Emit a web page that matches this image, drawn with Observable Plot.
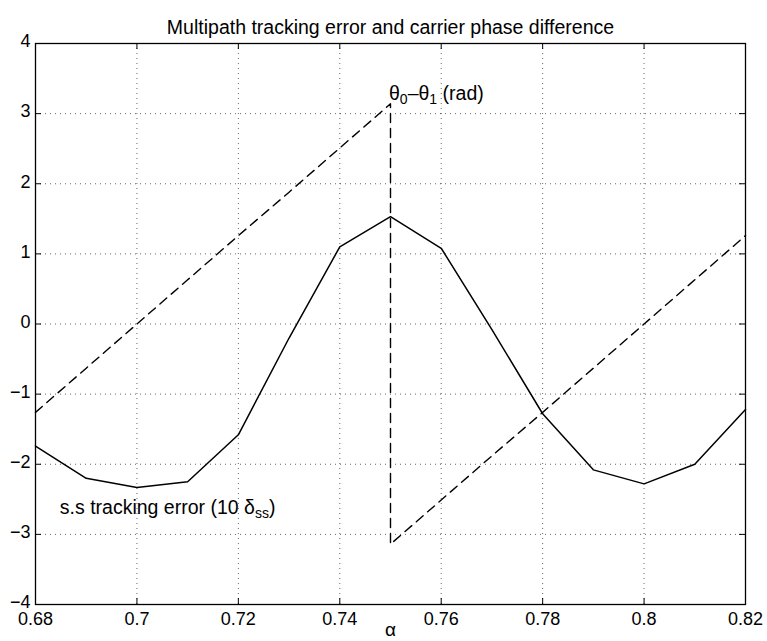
<!DOCTYPE html>
<html>
<head>
<meta charset="utf-8">
<script src="https://cdn.jsdelivr.net/npm/d3@7"></script>
<script src="https://cdn.jsdelivr.net/npm/@observablehq/plot@0.6"></script>
<style>
  html, body { margin: 0; padding: 0; background: #fff; }
  #chart svg { display: block; }
</style>
</head>
<body>
<div id="chart"></div>
<script>
// ---- data ----
const alpha = [0.68, 0.69, 0.70, 0.71, 0.72, 0.73, 0.74, 0.75, 0.76, 0.77, 0.78, 0.79, 0.80, 0.81, 0.82];
const trackingError = [-1.74, -2.2, -2.33, -2.25, -1.58, -0.2, 1.1, 1.53, 1.08, -0.08, -1.28, -2.08, -2.28, -2.0, -1.22];

const phaseAlpha = [0.68, 0.69, 0.70, 0.71, 0.72, 0.73, 0.74, 0.75, 0.75, 0.76, 0.77, 0.78, 0.79, 0.80, 0.81, 0.82];
const phaseDiff = [-1.26, -0.63, 0, 0.63, 1.26, 1.88, 2.51, 3.14, -3.14, -2.51, -1.88, -1.26, -0.63, 0, 0.63, 1.26];

const xTicks = [0.68, 0.70, 0.72, 0.74, 0.76, 0.78, 0.80, 0.82];
const yTicks = [-4, -3, -2, -1, 0, 1, 2, 3, 4];

const titleText = "Multipath tracking error and carrier phase difference";
const xLabel = "α";

// annotations: plain text, anchor position, and rich parts (text, isSubscript)
const annText = ["θ0–θ1 (rad)", "s.s tracking error (10 δss)"];
const annX = [0.7497, 0.6848];
const annY = [3.29, -2.62];
const annParts = [
  [["θ", false], ["0", true], ["–θ", false], ["1", true], [" (rad)", false]],
  [["s.s tracking error (10 δ", false], ["ss", true], [")", false]]
];

// ---- chart ----
const W = 767, H = 641;
const mL = 35, mR = 22, mT = 43, mB = 37;
const innerH = H - mT - mB, innerW = W - mL - mR;
const tickLen = 6;

const errData = alpha.map((a, i) => ({a, v: trackingError[i]}));
const phaseData = phaseAlpha.map((a, i) => ({a, v: phaseDiff[i]}));
const annData = annText.map((t, i) => ({t, x: annX[i], y: annY[i]}));

const chart = Plot.plot({
  width: W,
  height: H,
  marginLeft: mL,
  marginRight: mR,
  marginTop: mT,
  marginBottom: mB,
  style: {fontFamily: "'Liberation Sans', Arial, Helvetica, sans-serif", fontSize: "18px", background: "#fff", color: "#000"},
  x: {domain: [0.68, 0.82]},
  y: {domain: [-4, 4]},
  marks: [
    Plot.gridX(xTicks, {stroke: "#000", strokeOpacity: 0.6, strokeDasharray: "1,4"}),
    Plot.gridY(yTicks, {stroke: "#000", strokeOpacity: 0.6, strokeDasharray: "1,4"}),
    // inward ticks on all sides
    Plot.tickX(xTicks, {x: d => d, insetTop: innerH - tickLen, stroke: "#000"}),
    Plot.tickX(xTicks, {x: d => d, insetBottom: innerH - tickLen, stroke: "#000"}),
    Plot.tickY(yTicks, {y: d => d, insetRight: innerW - tickLen, stroke: "#000"}),
    Plot.tickY(yTicks, {y: d => d, insetLeft: innerW - tickLen, stroke: "#000"}),
    Plot.axisX(xTicks, {tickSize: 0, tickPadding: 8, label: null, fontSize: 18, tickFormat: d => String(+d.toFixed(2))}),
    Plot.axisY(yTicks, {tickSize: 0, tickPadding: 5, dy: -2, label: null, fontSize: 18, tickFormat: d => (d < 0 ? "−" + (-d) : String(d))}),
    Plot.frame({stroke: "#000", strokeWidth: 1.3}),
    Plot.line(phaseData, {x: "a", y: "v", stroke: "#000", strokeWidth: 1.4, strokeDasharray: "9,6"}),
    Plot.line(errData, {x: "a", y: "v", stroke: "#000", strokeWidth: 1.5}),
    Plot.text(annData, {x: "x", y: "y", text: "t", textAnchor: "start", fontSize: 19.5, fill: "#000"}),
    Plot.text([titleText], {text: d => d, frameAnchor: "top", dy: -23, fontSize: 19.5, fill: "#000"}),
    Plot.text([xLabel], {text: d => d, frameAnchor: "bottom", dy: 31, fontSize: 19, fill: "#000"})
  ]
});

// rebuild annotation texts with subscripts
d3.select(chart).selectAll("text").each(function() {
  const idx = annText.indexOf(this.textContent);
  if (idx < 0) return;
  const el = d3.select(this);
  el.text(null);
  for (const [s, sub] of annParts[idx]) {
    const ts = el.append("tspan").text(s);
    if (sub) ts.attr("font-size", "0.72em").attr("baseline-shift", "-0.3em");
  }
});

document.getElementById("chart").append(chart);
</script>
</body>
</html>
